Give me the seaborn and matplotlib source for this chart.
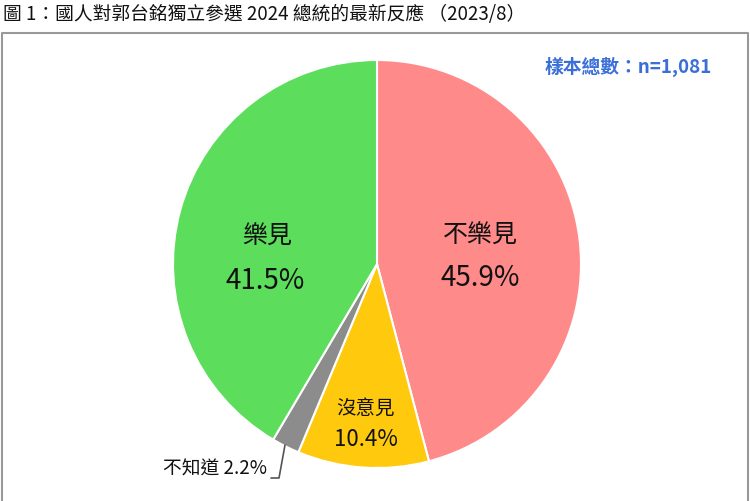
import matplotlib
matplotlib.use("Agg")
import matplotlib.pyplot as plt
import seaborn as sns

labels = ["不樂見", "沒意見", "不知道", "樂見"]
values = [45.9, 10.4, 2.2, 41.5]
colors = ["#FF8A8A", "#FFC90E", "#8C8C8C", "#5CDD5C"]
title = "圖 1：國人對郭台銘獨立參選 2024 總統的最新反應 （2023/8）"
sample_note = "樣本總數：n=1,081"

sns.set_theme(style="white")
plt.rcParams["font.family"] = ["Noto Sans CJK TC", "DejaVu Sans"]

fig = plt.figure(figsize=(7.5, 5.01), dpi=100)

# pie
cx, cy, r = 377, 264, 204
pie_ax = fig.add_axes([(cx - r) / 750, 1 - (cy + r) / 501, 2 * r / 750, 2 * r / 501])
pie_ax.pie(values, colors=colors, startangle=90, counterclock=False,
           wedgeprops=dict(edgecolor="white", linewidth=1.5))
pie_ax.set_xlim(-1, 1)
pie_ax.set_ylim(-1, 1)
pie_ax.set_aspect("auto")

# overlay in pixel coordinates for text / frame
ov = fig.add_axes([0, 0, 1, 1])
ov.set_xlim(0, 750)
ov.set_ylim(501, 0)
ov.axis("off")

ov.plot([2, 2, 748, 748], [505, 33, 33, 505], color="#999999", lw=1.5)
ov.text(3, 14, title, fontsize=13.5, va="center", ha="left", color="#111111")
ov.text(712, 67, sample_note, fontsize=13.5, va="center", ha="right",
        color="#3A6FD8", fontweight="semibold")

ov.text(480, 236, labels[0], fontsize=18, ha="center", va="center", color="#111111")
ov.text(480, 278, f"{values[0]}%", fontsize=20, ha="center", va="center", color="#111111")
ov.text(267, 237, labels[3], fontsize=18, ha="center", va="center", color="#111111")
ov.text(265, 281, f"{values[3]}%", fontsize=20, ha="center", va="center", color="#111111")
ov.text(366, 408, labels[1], fontsize=14, ha="center", va="center", color="#111111")
ov.text(366, 439, f"{values[1]}%", fontsize=16, ha="center", va="center", color="#111111")
ov.text(267, 469, f"{labels[2]} {values[2]}%", fontsize=13.5, ha="right", va="center", color="#111111")
ov.plot([285, 279, 271], [445, 478, 478], color="#555555", lw=1.2)

fig.savefig("out.png", dpi=100)
